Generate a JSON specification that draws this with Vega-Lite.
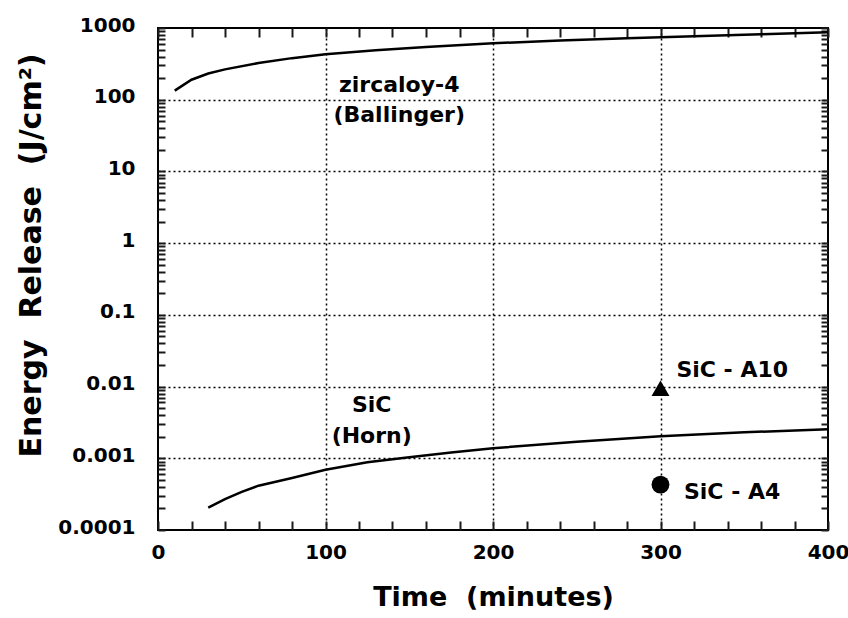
{
  "$schema": "https://vega.github.io/schema/vega-lite/v6.json",
  "width": 670,
  "height": 502,
  "autosize": {"type": "none"},
  "padding": {"left": 158, "top": 28, "right": 20, "bottom": 88},
  "background": "white",
  "config": {
    "view": {"stroke": "black", "strokeWidth": 2},
    "font": "DejaVu Sans"
  },
  "datasets": {
    "curves": [
      {"series": "Ballinger", "t": 10, "e": 134},
      {"series": "Ballinger", "t": 20, "e": 190},
      {"series": "Ballinger", "t": 30, "e": 232},
      {"series": "Ballinger", "t": 40, "e": 265},
      {"series": "Ballinger", "t": 60, "e": 325},
      {"series": "Ballinger", "t": 80, "e": 380},
      {"series": "Ballinger", "t": 100, "e": 430},
      {"series": "Ballinger", "t": 130, "e": 490},
      {"series": "Ballinger", "t": 160, "e": 545},
      {"series": "Ballinger", "t": 200, "e": 612},
      {"series": "Ballinger", "t": 240, "e": 670},
      {"series": "Ballinger", "t": 280, "e": 720},
      {"series": "Ballinger", "t": 320, "e": 770},
      {"series": "Ballinger", "t": 360, "e": 820},
      {"series": "Ballinger", "t": 400, "e": 870},
      {"series": "Horn", "t": 30, "e": 0.000205},
      {"series": "Horn", "t": 40, "e": 0.00027},
      {"series": "Horn", "t": 50, "e": 0.00034},
      {"series": "Horn", "t": 60, "e": 0.000415},
      {"series": "Horn", "t": 80, "e": 0.00053},
      {"series": "Horn", "t": 100, "e": 0.00069},
      {"series": "Horn", "t": 125, "e": 0.00088},
      {"series": "Horn", "t": 150, "e": 0.00103},
      {"series": "Horn", "t": 175, "e": 0.0012},
      {"series": "Horn", "t": 200, "e": 0.00138},
      {"series": "Horn", "t": 250, "e": 0.0017},
      {"series": "Horn", "t": 300, "e": 0.00203},
      {"series": "Horn", "t": 350, "e": 0.0023},
      {"series": "Horn", "t": 400, "e": 0.00254}
    ],
    "samples": [
      {"sample": "SiC - A10", "t": 300, "e": 0.0095},
      {"sample": "SiC - A4", "t": 300, "e": 0.00043}
    ],
    "centerLabels": [
      {"label": "zircaloy-4", "t": 144, "e": 128},
      {"label": "(Ballinger)", "t": 144, "e": 49.3},
      {"label": "SiC", "t": 127.6, "e": 0.00443},
      {"label": "(Horn)", "t": 127.6, "e": 0.00163}
    ],
    "leftLabels": [
      {"label": "SiC - A10", "t": 309.5, "e": 0.0136},
      {"label": "SiC - A4", "t": 314, "e": 0.00027}
    ]
  },
  "layer": [
    {
      "data": {"name": "curves"},
      "mark": {"type": "point", "opacity": 0},
      "encoding": {
        "x": {
          "field": "t", "type": "quantitative",
          "scale": {"domain": [0, 400], "nice": false, "zero": false},
          "axis": {
            "orient": "top", "title": null, "labels": false, "grid": false, "domain": false,
            "values": [0,20,40,60,80,100,120,140,160,180,200,220,240,260,280,300,320,340,360,380,400],
            "tickSize": -9, "tickColor": "#1a1a1a", "tickWidth": 2
          }
        },
        "y": {
          "field": "e", "type": "quantitative",
          "scale": {"type": "log", "domain": [0.0001, 1000], "nice": false},
          "axis": {
            "orient": "right", "title": null, "labels": false, "grid": false, "domain": false,
            "values": [0.0001,0.0002,0.0003,0.0004,0.0005,0.0006,0.0007,0.0008,0.0009,0.001,0.002,0.003,0.004,0.005,0.006,0.007,0.008,0.009,0.01,0.02,0.03,0.04,0.05,0.06,0.07,0.08,0.09,0.1,0.2,0.3,0.4,0.5,0.6,0.7,0.8,0.9,1,2,3,4,5,6,7,8,9,10,20,30,40,50,60,70,80,90,100,200,300,400,500,600,700,800,900,1000],
            "tickSize": -7, "tickColor": "#1a1a1a", "tickWidth": 2
          }
        }
      }
    },
    {
      "data": {"name": "curves"},
      "mark": {"type": "line", "color": "black", "strokeWidth": 2.5},
      "encoding": {
        "detail": {"field": "series"},
        "x": {
          "field": "t", "type": "quantitative",
          "scale": {"domain": [0, 400], "nice": false, "zero": false},
          "axis": {
            "orient": "bottom",
            "values": [0,20,40,60,80,100,120,140,160,180,200,220,240,260,280,300,320,340,360,380,400],
            "labelExpr": "datum.value % 100 === 0 ? datum.label : ''",
            "grid": true, "gridColor": "black", "gridDash": [2, 3], "gridWidth": 1.5,
            "gridOpacity": {"condition": {"test": "datum.value > 0 && datum.value < 400 && datum.value % 100 === 0", "value": 1}, "value": 0},
            "domain": false,
            "tickSize": -9, "tickColor": "#1a1a1a", "tickWidth": 2,
            "labelFont": "DejaVu Sans", "labelFontWeight": "bold", "labelFontSize": 20, "labelColor": "black",
            "labelPadding": 21, "labelFlush": false, "labelOverlap": false,
            "title": "Time\u00a0\u00a0(minutes)",
            "titleFont": "DejaVu Sans", "titleFontSize": 27, "titleFontWeight": "bold", "titleColor": "black",
            "titleX": 335, "titleY": 75, "titleBaseline": "alphabetic", "titleAlign": "center"
          }
        },
        "y": {
          "field": "e", "type": "quantitative",
          "scale": {"type": "log", "domain": [0.0001, 1000], "nice": false},
          "axis": {
            "orient": "left",
            "values": [0.0001,0.0002,0.0003,0.0004,0.0005,0.0006,0.0007,0.0008,0.0009,0.001,0.002,0.003,0.004,0.005,0.006,0.007,0.008,0.009,0.01,0.02,0.03,0.04,0.05,0.06,0.07,0.08,0.09,0.1,0.2,0.3,0.4,0.5,0.6,0.7,0.8,0.9,1,2,3,4,5,6,7,8,9,10,20,30,40,50,60,70,80,90,100,200,300,400,500,600,700,800,900,1000],
            "labelExpr": "abs(log(datum.value)/LN10 - round(log(datum.value)/LN10)) < 0.001 ? '' + datum.value : ''",
            "grid": true, "gridColor": "black", "gridDash": [2, 3], "gridWidth": 1.5,
            "gridOpacity": {"condition": {"test": "abs(log(datum.value)/LN10 - round(log(datum.value)/LN10)) < 0.001 && datum.value > 0.0002 && datum.value < 500", "value": 1}, "value": 0},
            "domain": false,
            "tickSize": -7, "tickColor": "#1a1a1a", "tickWidth": 2,
            "labelFont": "DejaVu Sans", "labelFontWeight": "bold", "labelFontSize": 20, "labelColor": "black",
            "labelPadding": 30, "labelFlush": false, "labelOverlap": false, "labelOffset": -3,
            "title": "Energy\u00a0\u00a0Release\u00a0\u00a0(J/cm²)",
            "titleFont": "DejaVu Sans", "titleFontSize": 30, "titleFontWeight": "bold", "titleColor": "black",
            "titleX": -118, "titleY": 227, "titleAngle": 270, "titleBaseline": "alphabetic", "titleAlign": "center"
          }
        }
      }
    },
    {
      "data": {"name": "samples"},
      "mark": {"type": "point", "filled": true, "color": "black", "opacity": 1, "size": 320},
      "encoding": {
        "x": {"field": "t", "type": "quantitative", "axis": null},
        "y": {"field": "e", "type": "quantitative", "axis": null},
        "shape": {
          "field": "sample", "type": "nominal",
          "scale": {"domain": ["SiC - A10", "SiC - A4"], "range": ["triangle-up", "circle"]},
          "legend": null
        }
      }
    },
    {
      "data": {"name": "centerLabels"},
      "mark": {"type": "text", "align": "center", "baseline": "alphabetic", "font": "DejaVu Sans", "fontWeight": "bold", "fontSize": 22, "color": "black"},
      "encoding": {
        "x": {"field": "t", "type": "quantitative", "axis": null},
        "y": {"field": "e", "type": "quantitative", "axis": null},
        "text": {"field": "label"}
      }
    },
    {
      "data": {"name": "leftLabels"},
      "mark": {"type": "text", "align": "left", "baseline": "alphabetic", "font": "DejaVu Sans", "fontWeight": "bold", "fontSize": 22, "color": "black"},
      "encoding": {
        "x": {"field": "t", "type": "quantitative", "axis": null},
        "y": {"field": "e", "type": "quantitative", "axis": null},
        "text": {"field": "label"}
      }
    }
  ],
  "resolve": {"axis": {"x": "independent", "y": "independent"}}
}
